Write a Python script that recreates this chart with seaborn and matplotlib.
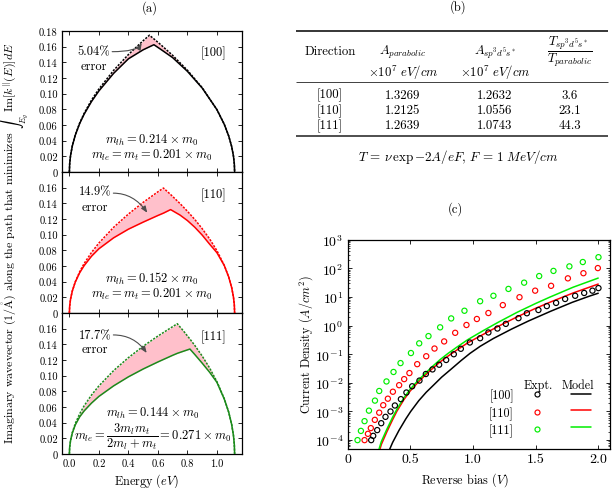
import numpy as np
import matplotlib
matplotlib.use("Agg")
import matplotlib.pyplot as plt
import seaborn as sns
from matplotlib.ticker import FixedLocator, FuncFormatter, LogLocator, NullFormatter
from matplotlib.lines import Line2D

# ---------------- data: panel (a) ----------------
E100 = [0, 0.002, 0.008, 0.02, 0.04, 0.07, 0.1, 0.15, 0.2, 0.3, 0.4, 0.5, 0.5425, 0.573, 0.62, 0.7, 0.8, 0.9, 1.0, 1.05, 1.08, 1.1, 1.112, 1.118, 1.12]
k100_parab = [0, 0.0106, 0.0212, 0.0335, 0.0474, 0.0627, 0.0749, 0.0918, 0.1060, 0.1298, 0.1499, 0.1676, 0.1746, 0.1699, 0.1624, 0.1489, 0.1299, 0.1077, 0.0796, 0.0608, 0.0459, 0.0325, 0.0205, 0.0103, 0]
k100_tb = [0, 0.0106, 0.0211, 0.0333, 0.0470, 0.0620, 0.0738, 0.0900, 0.1035, 0.1260, 0.1445, 0.1560, 0.1598, 0.1625, 0.1565, 0.1460, 0.1285, 0.1072, 0.0796, 0.0608, 0.0459, 0.0325, 0.0205, 0.0103, 0]

E110 = [0, 0.002, 0.008, 0.02, 0.04, 0.07, 0.1, 0.15, 0.2, 0.3, 0.4, 0.5, 0.6, 0.6377, 0.686, 0.75, 0.8, 0.85, 0.9, 0.95, 1.0, 1.05, 1.08, 1.1, 1.112, 1.118, 1.12]
k110_parab = [0, 0.0089, 0.0179, 0.0282, 0.0399, 0.0528, 0.0632, 0.0773, 0.0893, 0.1094, 0.1263, 0.1412, 0.1547, 0.1595, 0.1513, 0.1397, 0.1299, 0.1194, 0.1077, 0.0947, 0.0796, 0.0608, 0.0459, 0.0325, 0.0205, 0.0103, 0]
k110_tb = [0, 0.0089, 0.0178, 0.0281, 0.0395, 0.0515, 0.0605, 0.0725, 0.0820, 0.0960, 0.1070, 0.1160, 0.1245, 0.1275, 0.1320, 0.1250, 0.1180, 0.1095, 0.0995, 0.0880, 0.0770, 0.0605, 0.0459, 0.0325, 0.0205, 0.0103, 0]

E111 = [0, 0.002, 0.008, 0.02, 0.04, 0.07, 0.1, 0.15, 0.2, 0.3, 0.4, 0.5, 0.6, 0.7, 0.7314, 0.77, 0.817, 0.85, 0.9, 0.95, 1.0, 1.05, 1.08, 1.1, 1.112, 1.118, 1.12]
k111_parab = [0, 0.0087, 0.0174, 0.0275, 0.0389, 0.0514, 0.0615, 0.0753, 0.0869, 0.1065, 0.1230, 0.1375, 0.1506, 0.1626, 0.1663, 0.1578, 0.1468, 0.1386, 0.1251, 0.1100, 0.0924, 0.0706, 0.0533, 0.0377, 0.0238, 0.0119, 0]
k111_tb = [0, 0.0087, 0.0172, 0.0268, 0.0372, 0.0475, 0.0550, 0.0650, 0.0735, 0.0870, 0.0985, 0.1085, 0.1175, 0.1260, 0.1285, 0.1310, 0.1340, 0.1270, 0.1160, 0.1045, 0.0915, 0.0700, 0.0533, 0.0377, 0.0238, 0.0119, 0]

direction_labels = ['[100]', '[110]', '[111]']
error_labels = ['5.04%', '14.9%', '17.7%']
mass_line1 = [r'$m_{lh} = 0.214\times m_0$', r'$m_{lh} = 0.152\times m_0$', r'$m_{lh} = 0.144\times m_0$']
mass_line2 = [r'$m_{le} = m_t = 0.201\times m_0$', r'$m_{le} = m_t = 0.201\times m_0$',
              r'$m_{le} = \dfrac{3m_lm_t}{2m_l + m_t} = 0.271\times m_0$']

# ---------------- data: panel (b) ----------------
table_header1 = ['Direction', r'$A_{parabolic}$', r'$A_{sp^3d^5s^*}$', r'$\dfrac{T_{sp^3d^5s^*}}{T_{parabolic}}$']
table_header2 = ['', r'$\times10^7\ eV/cm$', r'$\times10^7\ eV/cm$', '']
table_direction = ['[100]', '[110]', '[111]']
table_A_parab = ['1.3269', '1.2125', '1.2639']
table_A_tb = ['1.2632', '1.0556', '1.0743']
table_T_ratio = ['3.6', '23.1', '44.3']
table_formula = r'$T\, =\, \nu\,\exp{-2A/eF},\, F\, =\, 1\ MeV/cm$'

# ---------------- data: panel (c) ----------------
bias_exp100 = [0.189, 0.205, 0.237, 0.269, 0.303, 0.343, 0.378, 0.426, 0.470, 0.516, 0.574, 0.625, 0.678, 0.731, 0.787, 0.848, 0.904, 0.976, 1.058, 1.124, 1.196, 1.263, 1.364, 1.431, 1.523, 1.590, 1.664, 1.736, 1.816, 1.888, 1.954, 2.002]
J_exp100 = [1.0e-4, 1.41e-4, 2.24e-4, 3.9e-4, 6.5e-4, 1.0e-3, 1.62e-3, 2.7e-3, 4.6e-3, 7.6e-3, 1.2e-2, 2.04e-2, 2.95e-2, 4.3e-2, 6.3e-2, 0.10, 0.155, 0.257, 0.363, 0.575, 0.79, 1.15, 1.82, 2.7, 3.5, 4.8, 6.2, 8.5, 11.0, 13.8, 16.6, 20.4]
bias_exp110 = [0.136, 0.163, 0.186, 0.218, 0.253, 0.285, 0.322, 0.362, 0.412, 0.452, 0.494, 0.556, 0.628, 0.694, 0.771, 0.859, 0.949, 1.032, 1.124, 1.239, 1.372, 1.497, 1.624, 1.758, 1.882, 1.997]
J_exp110 = [1.0e-4, 1.66e-4, 2.63e-4, 5.1e-4, 9.1e-4, 1.66e-3, 2.8e-3, 4.9e-3, 8.3e-3, 1.35e-2, 2.2e-2, 4.5e-2, 8.5e-2, 0.158, 0.28, 0.56, 1.05, 1.70, 2.75, 5.2, 9.8, 16.6, 24.5, 44.7, 67.6, 102]
bias_exp111 = [0.080, 0.107, 0.136, 0.171, 0.219, 0.253, 0.311, 0.367, 0.423, 0.506, 0.572, 0.646, 0.739, 0.827, 0.933, 1.058, 1.164, 1.284, 1.409, 1.529, 1.643, 1.770, 1.877, 2.002]
J_exp111 = [1.0e-4, 2.1e-4, 4.6e-4, 1.07e-3, 2.4e-3, 5.2e-3, 1.12e-2, 2.4e-2, 4.9e-2, 0.11, 0.24, 0.43, 0.87, 1.78, 3.3, 7.1, 11.0, 19.1, 31.6, 53.7, 81.3, 117, 166, 245]

bias_mod100 = [0.319, 0.36, 0.411, 0.465, 0.504, 0.569, 0.628, 0.686, 0.751, 0.826, 0.906, 0.977, 1.059, 1.164, 1.31, 1.444, 1.62, 1.793, 1.93, 2.0]
J_mod100 = [3.2e-5, 8.3e-5, 2.2e-4, 5.5e-4, 1.0e-3, 2.4e-3, 4.7e-3, 8.3e-3, 1.58e-2, 3.0e-2, 6.0e-2, 0.107, 0.19, 0.355, 0.76, 1.45, 3.16, 6.5, 10.7, 13.5]
bias_mod = [0.235, 0.27, 0.314, 0.36, 0.394, 0.45, 0.5, 0.55, 0.606, 0.67, 0.739, 0.8, 0.87, 0.96, 1.085, 1.2, 1.351, 1.5, 1.617, 1.8, 2.0]
J_mod110 = [2.1e-5, 7.1e-5, 1.95e-4, 5.2e-4, 1.02e-3, 2.6e-3, 5.2e-3, 9.1e-3, 1.62e-2, 2.95e-2, 5.4e-2, 8.5e-2, 0.138, 0.251, 0.50, 0.93, 2.0, 4.0, 6.6, 13.8, 28.2]
J_mod111 = [2.8e-5, 8.9e-5, 2.4e-4, 6.3e-4, 1.2e-3, 3.0e-3, 6.0e-3, 1.05e-2, 1.86e-2, 3.5e-2, 6.5e-2, 0.105, 0.174, 0.324, 0.676, 1.29, 2.88, 5.9, 10.0, 21.9, 45.7]

# ---------------- style ----------------
sns.set_style("ticks")
plt.rcParams.update({
    'font.family': ['cmr10', 'DejaVu Serif'],
    'mathtext.fontset': 'cm',
    'axes.formatter.use_mathtext': True,
    'axes.unicode_minus': False,
    'font.size': 8.5,
    'axes.linewidth': 0.9,
    'axes.edgecolor': 'black', 'text.color': 'black', 'axes.labelcolor': 'black',
    'xtick.color': 'black', 'ytick.color': 'black',
    'xtick.direction': 'in', 'ytick.direction': 'in',
    'xtick.top': True, 'ytick.right': True,
    'xtick.major.size': 3, 'ytick.major.size': 3,
    'xtick.minor.size': 1.6, 'ytick.minor.size': 1.6,
    'xtick.major.width': 0.6, 'ytick.major.width': 0.6,
    'xtick.minor.width': 0.5, 'ytick.minor.width': 0.5,
    'xtick.major.pad': 3, 'ytick.major.pad': 3,
})

W, H = 612, 489
fig = plt.figure(figsize=(W / 100, H / 100), dpi=100)

def fa(l, t, r, b):
    return [l / W, 1 - b / H, (r - l) / W, (b - t) / H]

overlay = fig.add_axes([0, 0, 1, 1])
overlay.set_xlim(0, W)
overlay.set_ylim(H, 0)
overlay.axis('off')

# ---------------- panel (a) ----------------
pink = '#ffc0cb'
cols_a = ['black', '#ff0000', '#1b8a1b']
Es = [E100, E110, E111]
kps = [k100_parab, k110_parab, k111_parab]
kts = [k100_tb, k110_tb, k111_tb]
tops = [32, 173, 314]
err_pos = [(0.165, 0.154, 0.136), (0.174, 0.155, 0.136), (0.174, 0.152, 0.134)]
arrows = [((0.29, 0.1536), (0.49, 0.1644), 60), ((0.298, 0.153), (0.528, 0.128), -55),
          ((0.298, 0.152), (0.524, 0.129), -55)]
dir_pos = [0.153, 0.151, 0.150]
mass_pos = [(0.555, 0.042, 0.0227), (0.56, 0.0444, 0.0252), (0.567, 0.0525, 0.0235)]

for i in range(3):
    ax = fig.add_axes(fa(62, tops[i], 242, tops[i] + 141))
    E, kp, kt, c = Es[i], kps[i], kts[i], cols_a[i]
    ax.fill_between(E, kt, kp, color=pink, lw=0, zorder=1)
    sns.lineplot(x=E, y=kp, ax=ax, color=c, lw=1.1, linestyle=(0, (1.4, 0.9)),
                 sort=False, estimator=None, zorder=3)
    sns.lineplot(x=E, y=kt, ax=ax, color=c, lw=1.1, sort=False, estimator=None, zorder=4)
    ax.set_xlim(-0.05, 1.17)
    ax.set_ylim(0, 0.18)
    ax.xaxis.set_major_locator(FixedLocator([0, 0.2, 0.4, 0.6, 0.8, 1.0]))
    yt = [0, 0.02, 0.04, 0.06, 0.08, 0.10, 0.12, 0.14, 0.16] + ([0.18] if i == 0 else [])
    ax.yaxis.set_major_locator(FixedLocator(yt))
    ax.yaxis.set_major_formatter(FuncFormatter(lambda v, p: '0' if abs(v) < 1e-9 else f'{v:.2f}'))
    ax.xaxis.set_major_formatter(FuncFormatter(lambda v, p: f'{v:.1f}'))
    ax.tick_params(labelsize=7.6)
    if i < 2:
        ax.tick_params(labelbottom=False)
    ax.set_xlabel('')
    ax.set_ylabel('')
    ex, ey1, ey2 = err_pos[i]
    ax.text(ex, ey1, error_labels[i], ha='center', va='center', fontsize=9)
    ax.text(ex, ey2, 'error', ha='center', va='center', fontsize=9)
    (tx, ty), (hx, hy), angB = arrows[i]
    ax.annotate('', xy=(hx, hy), xytext=(tx, ty),
                arrowprops=dict(arrowstyle='-|>,head_length=0.45,head_width=0.18', color='0.3', lw=0.8,
                                connectionstyle=f'angle3,angleA=0,angleB={angB}', shrinkA=0, shrinkB=0),
                zorder=5)
    ax.text(0.975, dir_pos[i], direction_labels[i], ha='center', va='center', fontsize=9)
    mx, my1, my2 = mass_pos[i]
    ax.text(mx, my1, mass_line1[i], ha='center', va='center', fontsize=9)
    ax.text(mx, my2, mass_line2[i], ha='center', va='center', fontsize=9)

overlay.text(150, 8.5, '(a)', ha='center', va='center', fontsize=9)
overlay.text(13, 243, r'Imaginary wavevector $(1/\mathring{\mathrm{A}})$ along the path that minimizes $\int_{E_g}\,\mathrm{Im}[k^{||}(E)]dE$',
             rotation=90, ha='center', va='center', fontsize=8.6)
overlay.text(146, 481, r'Energy $(eV)$', ha='center', va='center', fontsize=8.8)

# ---------------- panel (b) ----------------
overlay.text(458, 7.5, '(b)', ha='center', va='center', fontsize=9)
col_x = [330, 403, 495, 570]
overlay.hlines(32.3, 296, 608, color='black', lw=1.1)
overlay.hlines(83.3, 296, 608, color='0.25', lw=0.7)
overlay.hlines(136.7, 296, 608, color='0.25', lw=1.3)
for j in range(4):
    overlay.text(col_x[j], 52, table_header1[j], ha='center', va='center', fontsize=9.2)
    if table_header2[j]:
        overlay.text(col_x[j], 72.7, table_header2[j], ha='center', va='center', fontsize=9.2)
row_y = [95.7, 111, 126]
for r in range(3):
    vals = [table_direction[r], table_A_parab[r], table_A_tb[r], table_T_ratio[r]]
    for j in range(4):
        overlay.text(col_x[j], row_y[r], vals[j], ha='center', va='center', fontsize=9.2)
overlay.text(458, 156.7, table_formula, ha='center', va='center', fontsize=9.4)

# ---------------- panel (c) ----------------
overlay.text(455, 209.5, '(c)', ha='center', va='center', fontsize=9)
axC = fig.add_axes(fa(347.5, 240.7, 609.5, 450))
c_exp = ['black', '#ff0000', '#00ee00']
exps = [(bias_exp100, J_exp100), (bias_exp110, J_exp110), (bias_exp111, J_exp111)]
mods = [(bias_mod100, J_mod100), (bias_mod, J_mod110), (bias_mod, J_mod111)]
for (bx, jy), c in zip(mods, c_exp):
    sns.lineplot(x=bx, y=jy, ax=axC, color=c, lw=1.1, sort=False, estimator=None, zorder=3)
for (bx, jy), c in zip(exps, c_exp):
    sns.scatterplot(x=bx, y=jy, ax=axC, marker='o', s=14, facecolor='none', edgecolor=c,
                    linewidth=0.85, zorder=4)
axC.set_yscale('log')
axC.set_xlim(0, 2.09)
axC.set_ylim(10 ** -4.31, 1e3)
axC.xaxis.set_major_locator(FixedLocator([0, 0.5, 1.0, 1.5, 2.0]))
axC.xaxis.set_major_formatter(FuncFormatter(lambda v, p: '0' if abs(v) < 1e-9 else f'{v:.1f}'))
axC.yaxis.set_major_locator(LogLocator(base=10, numticks=20))
axC.yaxis.set_minor_locator(LogLocator(base=10, subs=np.arange(2, 10), numticks=20))
axC.yaxis.set_minor_formatter(NullFormatter())
axC.tick_params(labelsize=10)
axC.set_xlabel('')
axC.set_ylabel('')
overlay.text(306, 345, r'Current Density $(A/cm^2)$', rotation=90, ha='center', va='center', fontsize=8.8)
overlay.text(465, 480.5, r'Reverse bias $(V)$', ha='center', va='center', fontsize=8.8)

handles = [Line2D([], [], ls='none', marker='o', mfc='none', mec=c, ms=3.6, mew=0.85) for c in c_exp] + \
          [Line2D([], [], color=c, lw=1.1) for c in c_exp]
labels = table_direction + ['', '', '']
leg = axC.legend(handles, labels, ncol=2, markerfirst=False, frameon=False, loc='lower right',
                 bbox_to_anchor=(0.93, 0.055), borderaxespad=0, borderpad=0,
                 handlelength=1.7, handletextpad=1.1, columnspacing=0.8, labelspacing=0.35,
                 fontsize=8.7)
axC.text(0.727, 0.306, 'Expt.', transform=axC.transAxes, ha='center', va='center', fontsize=8.7)
axC.text(0.880, 0.306, 'Model', transform=axC.transAxes, ha='center', va='center', fontsize=8.7)

fig.savefig('out.png', dpi=100)
